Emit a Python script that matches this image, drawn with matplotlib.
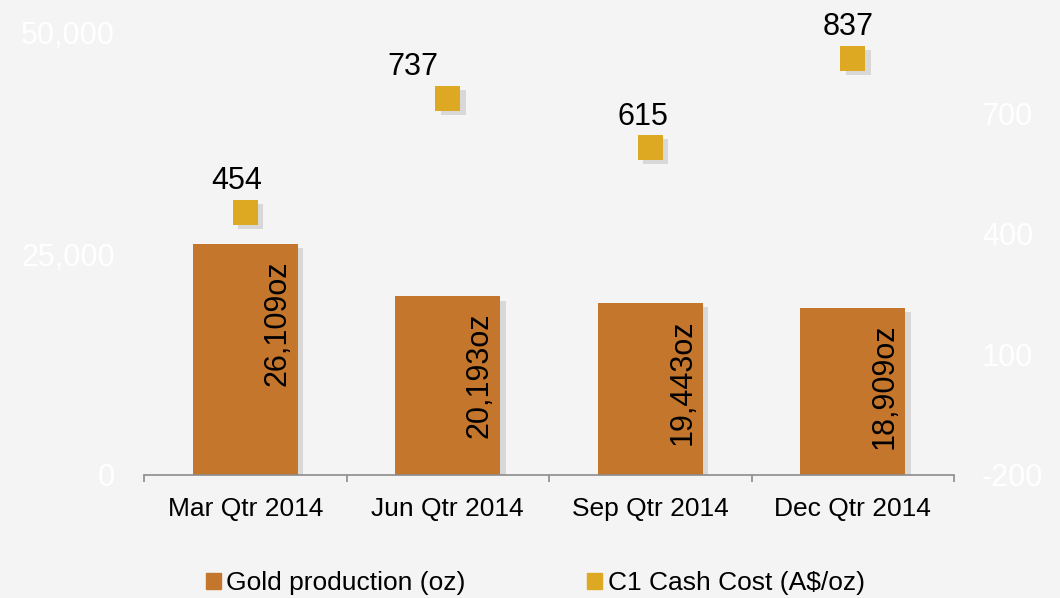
import matplotlib
matplotlib.use('Agg')
import matplotlib.pyplot as plt
import matplotlib.patheffects as pe
from matplotlib.patches import Patch

plt.rcParams['font.family'] = ['Liberation Sans', 'DejaVu Sans']
plt.rcParams['axes.unicode_minus'] = False

quarters = ['Mar Qtr 2014', 'Jun Qtr 2014', 'Sep Qtr 2014', 'Dec Qtr 2014']
gold_oz = [26109, 20193, 19443, 18909]
cash_cost = [454, 737, 615, 837]
gold_labels = ['26,109oz', '20,193oz', '19,443oz', '18,909oz']

bar_color = '#C4762C'
cost_color = '#DDA923'
bg = '#F4F4F4'

fig = plt.figure(figsize=(10.6, 5.98), dpi=100, facecolor=bg)
ax = fig.add_axes([144/1060, 123/598, 810/1060, 442/598])
ax.set_facecolor(bg)
ax2 = ax.twinx()

x = list(range(len(quarters)))


def shadow():
    return [pe.SimplePatchShadow(offset=(4, -3), shadow_rgbFace='#999999', alpha=0.3), pe.Normal()]


bars = ax.bar(x, gold_oz, width=0.52, color=bar_color, zorder=2)
for b in bars:
    b.set_path_effects(shadow())

# labels inside bars
for xi, v, lab in zip(x, gold_oz, gold_labels):
    ax.annotate(lab, (xi, v), xytext=(32, -16), textcoords='offset pixels',
                rotation=90, ha='center', va='top', fontsize=22, color='black', zorder=3)

ax2.plot(x, cash_cost, linestyle='none', marker='s', markersize=18,
         color=cost_color, markeredgewidth=0, zorder=3, path_effects=shadow())

# cost labels, nudged like in the original
label_dx = [-9, -35, -7, -5]
for xi, v, dx in zip(x, cash_cost, label_dx):
    ax2.annotate(str(v), (xi, v), xytext=(dx, 31), textcoords='offset pixels',
                 ha='center', va='center', fontsize=22, color='black')

ax.set_xlim(-0.5, 3.5)
ax.set_ylim(0, 50000)
ax.set_yticks([0, 25000, 50000])
ax.set_yticklabels(['{:,}'.format(t) for t in [0, 25000, 50000]])
ax2.set_ylim(-200, 900)
ax2.set_yticks([-200, 100, 400, 700])

ax.set_xticks(x)
ax.set_xticklabels(quarters, fontsize=19)
ax.set_xticks([-0.5, 0.5, 1.5, 2.5, 3.5], minor=True)
ax.tick_params(axis='x', which='major', length=0, pad=16)
ax.tick_params(axis='x', which='minor', length=5, color='#8C8C8C', width=1.2)
ax.tick_params(axis='y', length=0, labelsize=22, labelcolor='white', pad=21)
ax2.tick_params(axis='y', length=0, labelsize=22, labelcolor='white', pad=20)

for a in (ax, ax2):
    for s in ('top', 'left', 'right'):
        a.spines[s].set_visible(False)
ax2.spines['bottom'].set_visible(False)
ax.spines['bottom'].set_color('#8C8C8C')
ax.spines['bottom'].set_linewidth(1.2)

handles = [Patch(color=bar_color, label='Gold production (oz)'),
           Patch(color=cost_color, label='C1 Cash Cost (A$/oz)')]
fig.legend(handles=handles, loc='center', bbox_to_anchor=(0.505, 0.025), ncol=2,
           frameon=False, fontsize=19, handlelength=0.57, handleheight=0.57,
           handletextpad=0.2, columnspacing=4.6)

fig.savefig('out.png', dpi=100, facecolor=bg)
